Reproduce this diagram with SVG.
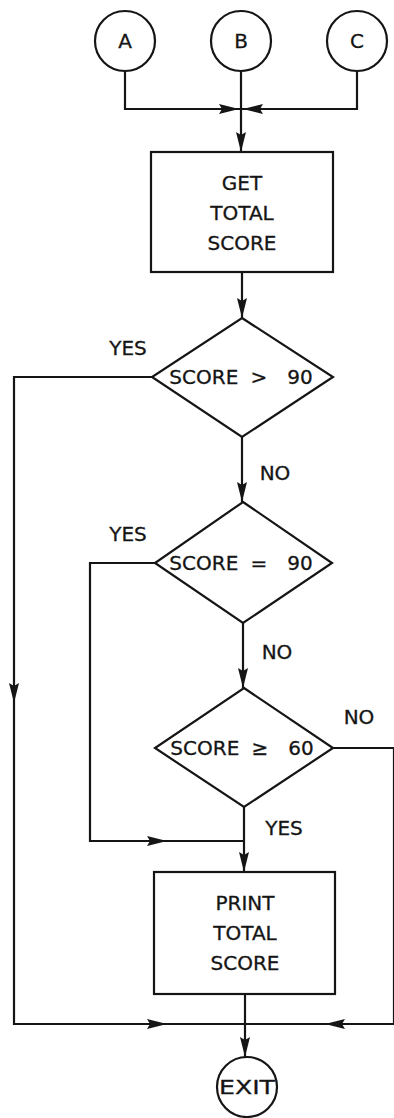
<svg xmlns="http://www.w3.org/2000/svg" xmlns:xlink="http://www.w3.org/1999/xlink" width="394" height="1118" viewBox="0 0 394 1118">
<style>
.s{fill:none;stroke:#151515;stroke-width:2.2}
.n{fill:#fff;stroke:#151515;stroke-width:2.2}
text{font-family:"DejaVu Sans",sans-serif;font-size:20px;fill:#151515;stroke:#151515;stroke-width:0.3;text-anchor:middle}
.ah{fill:#151515}
</style>
<defs>
<path id="ah" class="ah" d="M0,0 L-5,-20 L0,-17 L5,-20 Z"/>
</defs>
<rect width="394" height="1118" fill="#fff"/>
<g id="connectors">
<path class="s" d="M125,71 V109 H241"/>
<path class="s" d="M357,71 V109 H241"/>
<path class="s" d="M241,71 V152"/>
<path class="s" d="M242,272 V318"/>
<path class="s" d="M242,437 V502"/>
<path class="s" d="M243,623 V688"/>
<path class="s" d="M244,807 V872"/>
<path class="s" d="M245,994 V1057"/>
<path class="s" d="M152,377 H14 V1024 H245"/>
<path class="s" d="M155,563 H90 V841 H244"/>
<path class="s" d="M333,748 H394 V1024 H245"/>
<use xlink:href="#ah" transform="translate(239,109) rotate(-90)"/>
<use xlink:href="#ah" transform="translate(243,109) rotate(90)"/>
<use xlink:href="#ah" transform="translate(241,152)"/>
<use xlink:href="#ah" transform="translate(242,318)"/>
<use xlink:href="#ah" transform="translate(242,502)"/>
<use xlink:href="#ah" transform="translate(243,688)"/>
<use xlink:href="#ah" transform="translate(244,872)"/>
<use xlink:href="#ah" transform="translate(245,1057)"/>
<use xlink:href="#ah" transform="translate(14,703)"/>
<use xlink:href="#ah" transform="translate(167,1024) rotate(-90)"/>
<use xlink:href="#ah" transform="translate(167,841) rotate(-90)"/>
<use xlink:href="#ah" transform="translate(325,1024) rotate(90)"/>
<text x="128" y="355">YES</text>
<text x="275" y="480">NO</text>
<text x="128" y="541">YES</text>
<text x="277" y="659">NO</text>
<text x="359" y="724">NO</text>
<text x="284" y="835">YES</text>
</g>
<g id="A"><circle class="n" cx="125" cy="41" r="30"/><text x="125" y="48">A</text></g>
<g id="B"><circle class="n" cx="241" cy="41" r="30"/><text x="241" y="48">B</text></g>
<g id="C"><circle class="n" cx="357" cy="41" r="30"/><text x="357" y="48">C</text></g>
<g id="get"><rect class="n" x="151" y="152" width="182" height="120"/>
<text x="242" y="190">GET</text><text x="242" y="220">TOTAL</text><text x="242" y="250">SCORE</text></g>
<g id="d1"><path class="n" d="M242,318 L333,377 L242,437 L152,377 Z"/><text y="384"><tspan x="207">SCORE</tspan> <tspan x="262">&gt;</tspan> <tspan x="300">90</tspan></text></g>
<g id="d2"><path class="n" d="M243,502 L332,563 L243,623 L155,563 Z"/><text y="570"><tspan x="207">SCORE</tspan> <tspan x="262">=</tspan> <tspan x="300">90</tspan></text></g>
<g id="d3"><path class="n" d="M244,688 L333,748 L244,807 L155,748 Z"/><text y="755"><tspan x="208">SCORE</tspan> <tspan x="263">≥</tspan> <tspan x="301">60</tspan></text></g>
<g id="print"><rect class="n" x="154" y="872" width="181" height="122"/>
<text x="245" y="910">PRINT</text><text x="245" y="940">TOTAL</text><text x="245" y="970">SCORE</text></g>
<g id="exit"><circle class="n" cx="247" cy="1087" r="30"/><text x="247" y="1094" textLength="56" lengthAdjust="spacingAndGlyphs">EXIT</text></g>
</svg>
